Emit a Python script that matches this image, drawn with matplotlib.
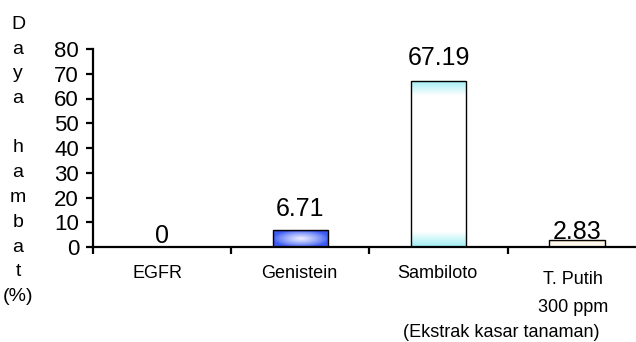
import numpy as np
import matplotlib
matplotlib.use("Agg")
import matplotlib.pyplot as plt
from matplotlib.patches import Rectangle
from matplotlib.colors import to_rgb
from matplotlib.transforms import blended_transform_factory

# Data
categories = ["EGFR", "Genistein", "Sambiloto", "T. Putih\n300 ppm"]
values = [0, 6.71, 67.19, 2.83]
value_labels = ["0", "6.71", "67.19", "2.83"]
y_ticks = [0, 10, 20, 30, 40, 50, 60, 70, 80]
y_title = "Daya hambat"
group_note = "(Ekstrak kasar tanaman)"

plt.rcParams["font.family"] = ["Liberation Sans", "DejaVu Sans"]

fig = plt.figure(figsize=(6.36, 3.42), dpi=100)
ax = fig.add_axes([93 / 636, 95 / 342, 553 / 636, 198 / 342])
ax.set_xlim(0.5, 4.5)
ax.set_ylim(0, 80)

for s in ["top", "right"]:
    ax.spines[s].set_visible(False)
for s in ["left", "bottom"]:
    ax.spines[s].set_linewidth(1.6)

ax.set_yticks(y_ticks)
ax.set_yticklabels([str(t) for t in y_ticks], fontsize=16)
ax.tick_params(axis="y", direction="out", length=5, width=1.6, pad=5)

# Boundary ticks between categories
ax.set_xticks([0.5, 1.5, 2.5, 3.5, 4.5])
ax.set_xticklabels([])
ax.tick_params(axis="x", which="major", direction="out", length=5, width=1.6)

x = np.arange(1, len(categories) + 1)
bar_w = 0.40


def blend(c1, c2, w):
    c1 = np.array(to_rgb(c1))
    c2 = np.array(to_rgb(c2))
    return c1[None, None, :] * (1 - w[..., None]) + c2[None, None, :] * w[..., None]


ny, nx = 200, 100
yy, xx = np.mgrid[0:1:ny * 1j, -1:1:nx * 1j]   # yy: 0 top -> 1 bottom

# Blue: bright edges, pale centre
r = np.sqrt((xx / 1.0) ** 2 + ((yy - 0.5) / 0.5) ** 2)
w_blue = np.clip(1 - r, 0, 1) ** 0.8
img_blue = blend("#3b5bf4", "#eef1ff", w_blue)
img_blue[:14] = to_rgb("#1c2c9c")

# Cyan: coloured bands at top and bottom
d = np.minimum(yy, 1 - yy)
w_cyan = np.clip(d / 0.09, 0, 1)
img_cyan = blend("#9eeef4", "#ffffff", w_cyan)

# Orange: coloured top, pale body
img_orange = np.ones((ny, nx, 3)) * np.array(to_rgb("#fff8ee"))
img_orange[:60] = to_rgb("#f6c07c")

fills = [None, img_blue, img_cyan, img_orange]

for xi, v, img in zip(x, values, fills):
    if v <= 0:
        continue
    rect = Rectangle((xi - bar_w / 2, 0), bar_w, v, facecolor="none",
                     edgecolor="black", linewidth=1.0, zorder=3)
    ax.add_patch(rect)
    im = ax.imshow(img, extent=(xi - bar_w / 2, xi + bar_w / 2, 0, v),
                   aspect="auto", interpolation="bilinear", zorder=2)
    im.set_clip_path(rect)

# Value labels
label_offsets = [-1, 7, 8, -3]
for xi, v, lab, off in zip(x, values, value_labels, label_offsets):
    ax.annotate(lab, (xi, v), xytext=(0, off), textcoords="offset points",
                ha="center", va="bottom", fontsize=18, zorder=4)

# Category labels
xt = ax.get_xaxis_transform()
ax.text(0.97, -0.09, categories[0], transform=xt, ha="center", va="top", fontsize=13)
ax.text(1.99, -0.09, categories[1], transform=xt, ha="center", va="top", fontsize=13)
ax.text(2.99, -0.09, categories[2], transform=xt, ha="center", va="top", fontsize=13)
ax.text(3.97, -0.12, categories[3], transform=xt, ha="center", va="top",
        fontsize=13, linespacing=1.85)
ax.text(2.74, -0.39, group_note, transform=xt, ha="left", va="top", fontsize=13)

# Vertical, letter-by-letter axis title
letters = list(y_title) + ["(%)"]
trans = blended_transform_factory(fig.transFigure, ax.transData)
for i, ch in enumerate(letters):
    ax.text(18 / 636, 90 - 10 * i, ch, transform=trans, ha="center",
            va="center", fontsize=14, clip_on=False)

fig.savefig("out.png", dpi=100)
